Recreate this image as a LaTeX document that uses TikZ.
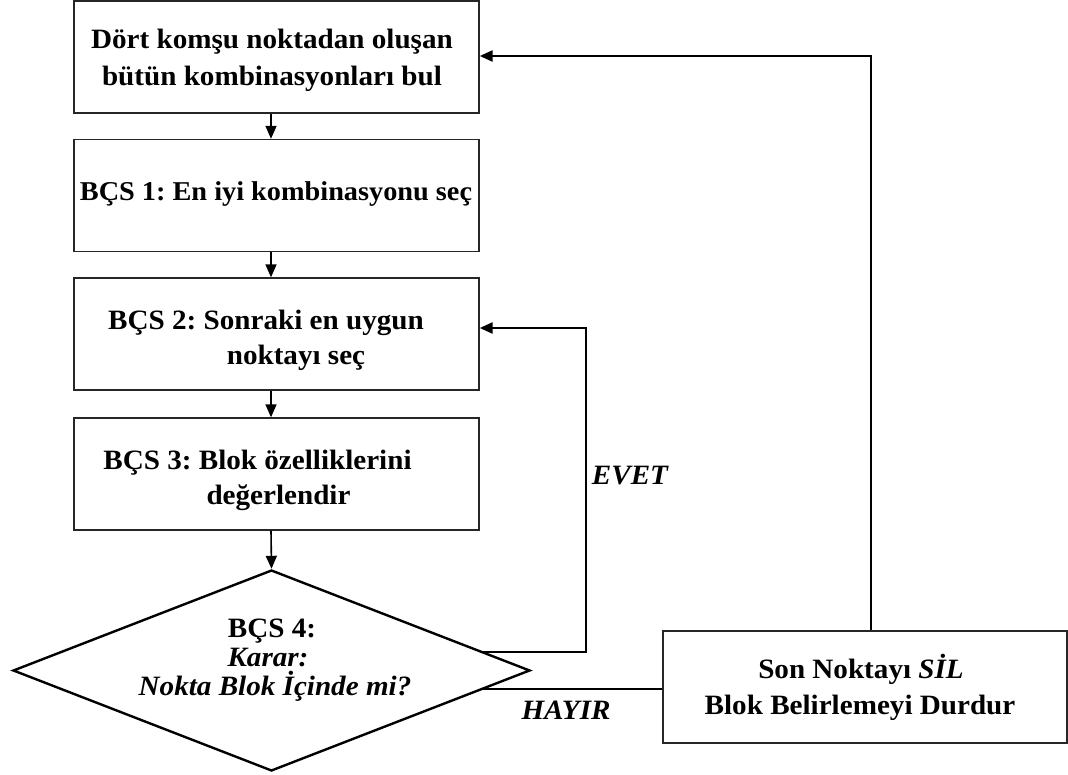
\documentclass[tikz,border=0pt]{standalone}
\usepackage{fontspec}
\setmainfont{Liberation Serif}[FakeStretch=1.04]
\usetikzlibrary{shapes.geometric,arrows.meta,calc}
\frenchspacing
\begin{document}
\begin{tikzpicture}[x=1pt,y=-1pt,
  box/.style={draw=black!85, line width=1.4pt, minimum width=405pt, minimum height=112pt, inner sep=0pt},
  txt/.style={font=\fontsize{28}{34}\selectfont\bfseries, anchor=base, inner sep=0pt},
  itxt/.style={font=\fontsize{28}{34}\selectfont\bfseries\itshape, anchor=base, inner sep=0pt},
  conn/.style={line width=2.5pt, black},
  thinconn/.style={line width=1.6pt, black},
  arr/.style={-{Triangle[length=13pt,width=11pt]}}
]
\useasboundingbox (0,0) rectangle (1068,775);
\fill[white] (0,0) rectangle (1068,775);

% boxes
\node[box] (b1) at (276.5,57) {};
\node[box] (b2) at (276.5,195.5) {};
\node[box] (b3) at (276.5,334) {};
\node[box] (b4) at (276.5,474) {};
\node[draw, line width=2.4pt, shape=diamond, minimum width=517pt, minimum height=201pt, inner sep=0pt] (d) at (271.5,670.5) {};
\node[box, minimum width=404pt] (r) at (865,687) {};

% texts
\node[txt] (t1a) at (272,49) {Dört komşu noktadan oluşan};
\node[txt] (t1b) at (272,86) {bütün kombinasyonları bul};
\node[txt, font=\fontsize{27.2}{34}\selectfont\bfseries] (t2) at (276,201) {BÇS 1: En iyi kombinasyonu seç};
\node[txt] (t3a) at (266,330) {BÇS 2: Sonraki en uygun};
\node[txt] (t3b) at (296,365) {noktayı seç};
\node[txt] (t4a) at (257.5,469) {BÇS 3: Blok özelliklerini};
\node[txt] (t4b) at (278.5,504) {değerlendir};
\node[txt] (t5a) at (272,637) {BÇS 4:};
\node[itxt] (t5b) at (268,666) {Karar:};
\node[itxt] (t5c) at (275,695) {Nokta Blok İçinde mi?};
\node[txt] (t6a) at (861,678) {Son Noktayı {\itshape SİL}};
\node[txt] (t6b) at (860,714) {Blok Belirlemeyi Durdur};
\node[itxt] (lev) at (630,484) {EVET};
\node[itxt] (lhy) at (566,719) {HAYIR};

% connectors
\coordinate (ax) at (271,0);
\draw[thinconn,arr] (b1.south -| ax) -- (b2.north -| ax);
\draw[thinconn,arr] (b2.south -| ax) -- (b3.north -| ax);
\draw[thinconn,arr] (b3.south -| ax) -- (b4.north -| ax);
\draw[thinconn,arr] (b4.south -| ax) -- (d.north);

\coordinate (e1) at ($(d.north)!0.816!(d.east)$);
\coordinate (ev) at (586,0);
\draw[conn,arr] (e1) -- (e1 -| ev) |- ([yshift=6pt]b3.east);

\coordinate (h1) at ($(d.east)!0.184!(d.south)$);
\draw[conn] (h1) -- (h1 -| r.west);

\coordinate (fb) at (871,0);
\draw[conn,arr] (r.north -| fb) |- ([yshift=1pt]b1.east);
\end{tikzpicture}
\end{document}
